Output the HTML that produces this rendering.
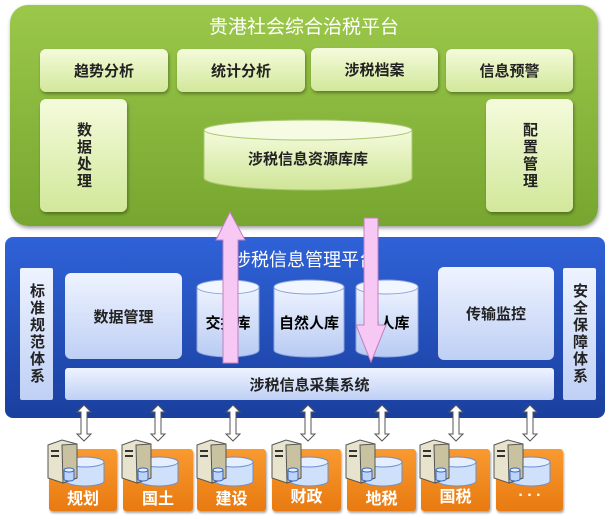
<!DOCTYPE html>
<html><head><meta charset="utf-8"><style>
body{margin:0;width:608px;height:520px;background:#fff;position:relative;overflow:hidden;font-family:"Liberation Sans","Noto Sans CJK SC",sans-serif}
.a{position:absolute;box-sizing:border-box}
.g{background:linear-gradient(#f4fbdc,#d2e89a);border-radius:6px;box-shadow:1px 2px 3px rgba(0,0,0,.35);display:flex;align-items:center;justify-content:center;font-weight:bold;font-size:15px;color:#222}
.b{background:linear-gradient(#eef3ff,#bfd0f5);border-radius:6px;display:flex;align-items:center;justify-content:center;font-weight:bold;font-size:15px;color:#222}
.v{writing-mode:vertical-rl;letter-spacing:2px}
.o{background:linear-gradient(#f99a30,#e87a10);border-radius:3px;box-shadow:1px 2px 2px rgba(0,0,0,.35);color:#fff;font-weight:bold;font-size:16px;text-align:center}
</style></head><body>
<div class="a" style="left:10px;top:5px;width:588px;height:221px;border-radius:18px;background:linear-gradient(#9bc84a,#77a630);box-shadow:1px 2px 4px rgba(0,0,0,.4)"></div>
<div class="a" style="left:10px;top:12px;width:588px;text-align:center;color:#fff;font-size:19px">贵港社会综合治税平台</div>
<div class="a g" style="left:40px;top:49px;width:128px;height:43px">趋势分析</div>
<div class="a g" style="left:177px;top:49px;width:128px;height:43px">统计分析</div>
<div class="a g" style="left:311px;top:48px;width:127px;height:43px">涉税档案</div>
<div class="a g" style="left:446px;top:49px;width:127px;height:43px">信息预警</div>
<div class="a g v" style="left:40px;top:99px;width:87px;height:113px">数据处理</div>
<div class="a g v" style="left:486px;top:99px;width:87px;height:113px">配置管理</div>
<svg class="a" style="left:200px;top:118px" width="216" height="76"><defs><linearGradient id="c" x1="0" y1="0" x2="0" y2="1"><stop offset="0" stop-color="#f4fbdc"/><stop offset="1" stop-color="#cfe597"/></linearGradient></defs>
<path d="M4 12 V60 A104 12 0 0 0 212 60 V12" fill="url(#c)" stroke="#a8c870"/><ellipse cx="108" cy="12" rx="104" ry="10" fill="#f6fce4" stroke="#a8c870"/></svg>
<div class="a" style="left:200px;top:148px;width:216px;text-align:center;font-weight:bold;font-size:15px;color:#222">涉税信息资源库库</div>

<div class="a" style="left:5px;top:237px;width:600px;height:181px;border-radius:8px;background:linear-gradient(#2f62d8,#1a3f9e)"></div>
<div class="a" style="left:5px;top:246px;width:600px;text-align:center;color:#fff;font-size:18px">涉税信息管理平台</div>
<div class="a b v" style="left:20px;top:268px;width:33px;height:132px;border-radius:2px">标准规范体系</div>
<div class="a b v" style="left:563px;top:268px;width:33px;height:132px;border-radius:2px">安全保障体系</div>
<div class="a b" style="left:65px;top:273px;width:117px;height:86px">数据管理</div>
<div class="a b" style="left:438px;top:267px;width:116px;height:93px">传输监控</div>
<svg class="a" style="left:0;top:0" width="608" height="520"><defs><linearGradient id="d" x1="0" y1="0" x2="0" y2="1"><stop offset="0" stop-color="#eef3ff"/><stop offset="1" stop-color="#b8cbf3"/></linearGradient></defs>
<g fill="url(#d)" stroke="#8aa4dd">
<path d="M197 287 V350 A31 7 0 0 0 259 350 V287"/><ellipse cx="228" cy="287" rx="31" ry="7" fill="#f2f6ff"/>
<path d="M274 287 V350 A35 7 0 0 0 344 350 V287"/><ellipse cx="309" cy="287" rx="35" ry="7" fill="#f2f6ff"/>
<path d="M356 287 V350 A31 7 0 0 0 418 350 V287"/><ellipse cx="387" cy="287" rx="31" ry="7" fill="#f2f6ff"/>
</g></svg>
<div class="a" style="left:190px;top:312px;width:76px;text-align:center;font-weight:bold;font-size:15px">交换库</div>
<div class="a" style="left:270px;top:312px;width:78px;text-align:center;font-weight:bold;font-size:15px">自然人库</div>
<div class="a" style="left:352px;top:312px;width:70px;text-align:center;font-weight:bold;font-size:15px">法人库</div>
<div class="a b" style="left:65px;top:368px;width:489px;height:32px;border-radius:3px">涉税信息采集系统</div>
<svg class="a" style="left:0;top:0" width="608" height="520">
<path d="M230 212 L245 240 L238 240 L238 363 L223 363 L223 240 L216 240 Z" fill="#f8c8f4" stroke="#c080c0"/>
<path d="M364 218 L378 218 L378 325 L386 325 L371 362 L356 325 L364 325 Z" fill="#f8c8f4" stroke="#c080c0"/>
<g fill="#fff" stroke="#555" stroke-width="1">
<path id="da" d="M84 405 L91 412 L87 412 L87 434 L91 434 L84 441 L77 434 L81 434 L81 412 L77 412 Z"/>
<use href="#da" x="74"/><use href="#da" x="149"/><use href="#da" x="224"/><use href="#da" x="298"/><use href="#da" x="372"/><use href="#da" x="446"/>
</g></svg>
<div class="a o" style="left:49px;top:449px;width:68px;height:62px;padding-top:36px">规划</div>
<div class="a o" style="left:123px;top:449px;width:70px;height:62px;padding-top:36px">国土</div>
<div class="a o" style="left:197px;top:449px;width:69px;height:62px;padding-top:36px">建设</div>
<div class="a o" style="left:272px;top:449px;width:69px;height:62px;padding-top:34px">财政</div>
<div class="a o" style="left:347px;top:449px;width:69px;height:62px;padding-top:36px">地税</div>
<div class="a o" style="left:421px;top:449px;width:69px;height:62px;padding-top:34px">国税</div>
<div class="a o" style="left:496px;top:449px;width:67px;height:62px;padding-top:34px">. . .</div>
<svg class="a" style="left:0;top:0" width="608" height="520"><g id="srv">
<path d="M66 462 V481 A19 5 0 0 0 104 481 V462" fill="#cfe0fb" stroke="#6a8fd0"/><ellipse cx="85" cy="462" rx="19" ry="5" fill="#e6efff" stroke="#6a8fd0"/>
<path d="M48 445 L62 440 L77 444 L77 478 L63 483 L48 478 Z" fill="#e8e3cc" stroke="#555"/>
<path d="M62 445 L77 444 L77 478 L63 483 Z" fill="#c9c2a0" stroke="#555"/>
<rect x="51" y="450" width="8" height="2" fill="#333"/><rect x="51" y="455" width="8" height="2" fill="#333"/>
<path d="M64 470 V479 A5 2 0 0 0 74 479 V470" fill="#bcd4fa" stroke="#3a66b8"/><ellipse cx="69" cy="470" rx="5" ry="2" fill="#e6efff" stroke="#3a66b8"/>
</g>
<use href="#srv" x="74"/><use href="#srv" x="149"/><use href="#srv" x="224"/><use href="#srv" x="298"/><use href="#srv" x="372"/><use href="#srv" x="446"/>
</svg>
</body></html>
